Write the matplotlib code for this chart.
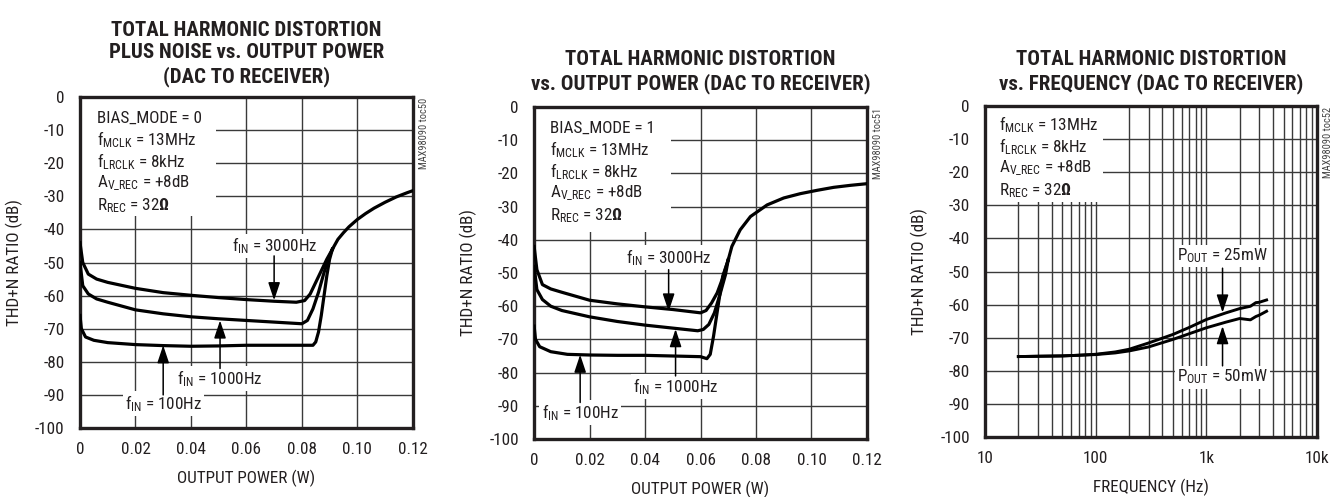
import numpy as np
import matplotlib
matplotlib.use('Agg')
import matplotlib.pyplot as plt
from matplotlib import font_manager
from matplotlib.patches import Rectangle
from matplotlib.ticker import FixedLocator, NullFormatter

# %%
# Daten

# Panel 1: BIAS_MODE = 0
p1_x_3000 = [0, 0.001, 0.003, 0.006, 0.01, 0.02, 0.03, 0.04, 0.05, 0.06, 0.07, 0.078, 0.081, 0.083, 0.085, 0.087, 0.089, 0.091]
p1_y_3000 = [-44, -50, -53.5, -55, -56, -57.8, -59.1, -59.9, -60.6, -61.2, -61.7, -62, -61.5, -59.5, -56, -52.5, -49, -46]
p1_x_1000 = [0, 0.001, 0.003, 0.006, 0.01, 0.02, 0.03, 0.04, 0.05, 0.06, 0.07, 0.078, 0.08, 0.082, 0.084, 0.086, 0.088, 0.090, 0.091]
p1_y_1000 = [-50, -57, -59.5, -61, -62, -64.3, -65.5, -66.4, -67, -67.5, -68, -68.4, -68.5, -67.5, -64, -59, -53, -48, -46]
p1_x_100 = [0, 0.0005, 0.002, 0.005, 0.01, 0.02, 0.03, 0.04, 0.05, 0.06, 0.07, 0.08, 0.084, 0.085, 0.086, 0.087, 0.088, 0.089, 0.090, 0.091]
p1_y_100 = [-66, -70, -72.5, -73.5, -74.2, -74.8, -75.1, -75.3, -75.2, -75, -75, -75, -75, -74, -71, -66, -60, -54, -49, -46]
p1_x_high = [0.091, 0.093, 0.095, 0.097, 0.100, 0.103, 0.106, 0.110, 0.114, 0.118, 0.12]
p1_y_high = [-46, -43, -41, -39.2, -37, -35.2, -33.6, -31.8, -30.2, -28.9, -28.3]

# Panel 2: BIAS_MODE = 1
p2_x_3000 = [0, 0.001, 0.003, 0.006, 0.01, 0.02, 0.03, 0.04, 0.05, 0.058, 0.060, 0.062, 0.064, 0.066, 0.068, 0.070]
p2_y_3000 = [-42, -49, -53.5, -54.8, -55.8, -58.2, -59.3, -60.2, -61, -61.8, -62, -61.3, -59, -56, -51.5, -46]
p2_x_1000 = [0, 0.001, 0.003, 0.006, 0.01, 0.02, 0.03, 0.04, 0.05, 0.059, 0.061, 0.063, 0.065, 0.067, 0.069, 0.070]
p2_y_1000 = [-48, -55, -58, -60, -61.3, -63.2, -64.6, -65.7, -66.6, -67.4, -67, -65.5, -62, -56.5, -50.5, -46]
p2_x_100 = [0, 0.0005, 0.002, 0.006, 0.012, 0.02, 0.03, 0.04, 0.05, 0.06, 0.0623, 0.0635, 0.0647, 0.0665, 0.068, 0.070]
p2_y_100 = [-66, -70, -72.2, -73.7, -74.5, -74.7, -74.8, -74.8, -75, -75.2, -75.8, -74.5, -69, -59, -51, -46]
p2_x_high = [0.070, 0.0713, 0.0743, 0.078, 0.084, 0.090, 0.096, 0.102, 0.108, 0.114, 0.120]
p2_y_high = [-46, -42, -37, -33, -29.5, -27.4, -26.1, -25.1, -24.2, -23.6, -23.1]

# Panel 3: THD vs. Frequenz
p3_freq = [20, 30, 50, 70, 100, 150, 200, 300, 500, 700, 1000, 1500, 2000, 2500, 2800, 3000, 3500]
p3_25mw = [-75.7, -75.6, -75.5, -75.3, -75.0, -74.3, -73.5, -71.6, -69.0, -66.9, -64.5, -62.5, -61.2, -60.5, -59.4, -59.3, -58.6]
p3_50mw = [-75.7, -75.6, -75.5, -75.3, -75.1, -74.6, -74.0, -72.8, -70.5, -68.8, -67.0, -65.3, -64.2, -64.6, -63.6, -63.2, -62.0]

power_ticks = [0, 0.02, 0.04, 0.06, 0.08, 0.10, 0.12]
power_ticklabels = ['0', '0.02', '0.04', '0.06', '0.08', '0.10', '0.12']
db_ticks = [0, -10, -20, -30, -40, -50, -60, -70, -80, -90, -100]
freq_ticks = [10, 100, 1000, 10000]
freq_ticklabels = ['10', '100', '1k', '10k']

# %%
# Schrift: schmale Groteskschrift wie im Datenblatt

available = {f.name for f in font_manager.fontManager.ttflist}
font = 'Roboto Condensed' if 'Roboto Condensed' in available else 'Liberation Sans'
plt.rcParams['font.family'] = [font, 'DejaVu Sans']
plt.rcParams['mathtext.fontset'] = 'custom'
plt.rcParams['mathtext.rm'] = font
plt.rcParams['mathtext.it'] = font
plt.rcParams['mathtext.bf'] = font + ':bold'

TXT = 12.3
DARK = '#231f20'
GRID = '#3a3a3a'

fig = plt.figure(figsize=(13.42, 4.97), dpi=100)

ax1 = fig.add_axes([0.0596, 0.1388, 0.248, 0.666])
ax2 = fig.add_axes([0.398, 0.1167, 0.248, 0.668])
ax3 = fig.add_axes([0.734, 0.1207, 0.2474, 0.666])


def style_axes(ax, xlabel, tag):
    ax.set_ylim(-100, 0)
    ax.set_yticks(db_ticks)
    ax.set_yticklabels([str(t) for t in db_ticks])
    ax.tick_params(length=0, labelsize=TXT, pad=11, colors=DARK)
    ax.tick_params(axis='x', pad=10)
    ax.grid(True, which='major', color=GRID, linewidth=1.0)
    ax.set_axisbelow(True)
    for s in ax.spines.values():
        s.set_linewidth(2.4)
        s.set_color(DARK)
    ax.set_xlabel(xlabel, fontsize=TXT, labelpad=9, color=DARK)
    ax.set_ylabel('THD+N RATIO (dB)', fontsize=TXT, labelpad=9, color=DARK)
    ax.text(1.018, 0.997, tag, transform=ax.transAxes, rotation=90,
            ha='left', va='top', fontsize=7.5, color='#444444')


def info_box(ax, lines, width, height, x0=0.05, y0=0.937):
    ax.add_patch(Rectangle((0, 1 - height), width, height, transform=ax.transAxes,
                           facecolor='white', edgecolor='none', zorder=2))
    for i, s in enumerate(lines):
        ax.text(x0, y0 - i * 0.066, s, transform=ax.transAxes,
                ha='left', va='center', fontsize=TXT, color=DARK, zorder=3)


def label_arrow(ax, text, xy, xytext, tail_y):
    # Beschriftung mit weissem Hintergrund
    ax.text(xytext[0], xytext[1], text, ha='center', va='center', fontsize=TXT,
            color=DARK, zorder=4,
            bbox=dict(facecolor='white', edgecolor='none', pad=1.5))
    ax.annotate('', xy=xy, xytext=(xy[0], tail_y),
                arrowprops=dict(arrowstyle='-|>,head_length=0.9,head_width=0.3',
                                color='black', lw=1.1, shrinkA=0, shrinkB=0,
                                mutation_scale=12),
                zorder=4)


lw = 2.3
title_kw = dict(fontsize=15, fontweight='bold', color=DARK, linespacing=1.25)

# %%
# Panel 1
ax1.plot(p1_x_3000, p1_y_3000, color='black', lw=lw, zorder=3)
ax1.plot(p1_x_1000, p1_y_1000, color='black', lw=lw, zorder=3)
ax1.plot(p1_x_100, p1_y_100, color='black', lw=lw, zorder=3)
ax1.plot(p1_x_high, p1_y_high, color='black', lw=lw, zorder=3)
ax1.set_xlim(0, 0.12)
ax1.set_xticks(power_ticks)
ax1.set_xticklabels(power_ticklabels)
style_axes(ax1, 'OUTPUT POWER (W)', 'MAX98090 toc50')
ax1.set_title('TOTAL HARMONIC DISTORTION\nPLUS NOISE vs. OUTPUT POWER\n(DAC TO RECEIVER)',
              pad=10.5, **title_kw)
info_box(ax1, ['BIAS_MODE = 0',
               r'f$_{\mathregular{MCLK}}$ = 13MHz',
               r'f$_{\mathregular{LRCLK}}$ = 8kHz',
               r'A$_{\mathregular{V\_REC}}$ = +8dB',
               r'R$_{\mathregular{REC}}$ = 32$\mathbf{\Omega}$'], 0.41, 0.36, x0=0.051)
label_arrow(ax1, r'f$_{\mathregular{IN}}$ = 3000Hz', (0.07, -61.4), (0.0703, -45), -48)
label_arrow(ax1, r'f$_{\mathregular{IN}}$ = 1000Hz', (0.0505, -67.5), (0.0505, -85), -82)
label_arrow(ax1, r'f$_{\mathregular{IN}}$ = 100Hz', (0.03, -75.0), (0.03, -92.5), -90)

# %%
# Panel 2
ax2.plot(p2_x_3000, p2_y_3000, color='black', lw=lw, zorder=3)
ax2.plot(p2_x_1000, p2_y_1000, color='black', lw=lw, zorder=3)
ax2.plot(p2_x_100, p2_y_100, color='black', lw=lw, zorder=3)
ax2.plot(p2_x_high, p2_y_high, color='black', lw=lw, zorder=3)
ax2.set_xlim(0, 0.12)
ax2.set_xticks(power_ticks)
ax2.set_xticklabels(power_ticklabels)
style_axes(ax2, 'OUTPUT POWER (W)', 'MAX98090 toc51')
ax2.set_title('TOTAL HARMONIC DISTORTION\nvs. OUTPUT POWER (DAC TO RECEIVER)',
              pad=12.5, **title_kw)
info_box(ax2, ['BIAS_MODE = 1',
               r'f$_{\mathregular{MCLK}}$ = 13MHz',
               r'f$_{\mathregular{LRCLK}}$ = 8kHz',
               r'A$_{\mathregular{V\_REC}}$ = +8dB',
               r'R$_{\mathregular{REC}}$ = 32$\mathbf{\Omega}$'], 0.41, 0.375, x0=0.048)
label_arrow(ax2, r'f$_{\mathregular{IN}}$ = 3000Hz', (0.0485, -61.6), (0.0485, -45.4), -49)
label_arrow(ax2, r'f$_{\mathregular{IN}}$ = 1000Hz', (0.051, -66.9), (0.051, -84.2), -81)
label_arrow(ax2, r'f$_{\mathregular{IN}}$ = 100Hz', (0.0166, -74.6), (0.0166, -92), -89)

# %%
# Panel 3
ax3.plot(p3_freq, p3_25mw, color='black', lw=2.1, zorder=3)
ax3.plot(p3_freq, p3_50mw, color='black', lw=2.1, zorder=3)
ax3.set_xscale('log')
ax3.set_xlim(10, 10000)
ax3.xaxis.set_major_locator(FixedLocator(freq_ticks))
ax3.set_xticklabels(freq_ticklabels)
ax3.xaxis.set_minor_locator(FixedLocator([m * d for d in (10, 100, 1000) for m in range(2, 10)]))
ax3.xaxis.set_minor_formatter(NullFormatter())
style_axes(ax3, 'FREQUENCY (Hz)', 'MAX98090 toc52')
ax3.grid(True, which='minor', axis='x', color=GRID, linewidth=1.0)
ax3.tick_params(which='minor', length=0)
ax3.set_title('TOTAL HARMONIC DISTORTION\nvs. FREQUENCY (DAC TO RECEIVER)',
              pad=12, **title_kw)
info_box(ax3, [r'f$_{\mathregular{MCLK}}$ = 13MHz',
               r'f$_{\mathregular{LRCLK}}$ = 8kHz',
               r'A$_{\mathregular{V\_REC}}$ = +8dB',
               r'R$_{\mathregular{REC}}$ = 32$\mathbf{\Omega}$'], 0.355, 0.29, x0=0.042, y0=0.943)
label_arrow(ax3, r'P$_{\mathregular{OUT}}$ = 25mW', (1400, -62.4), (1400, -45.3), -49)
label_arrow(ax3, r'P$_{\mathregular{OUT}}$ = 50mW', (1400, -66.5), (1400, -81.9), -78.5)

fig.savefig('out.png', dpi=100)
